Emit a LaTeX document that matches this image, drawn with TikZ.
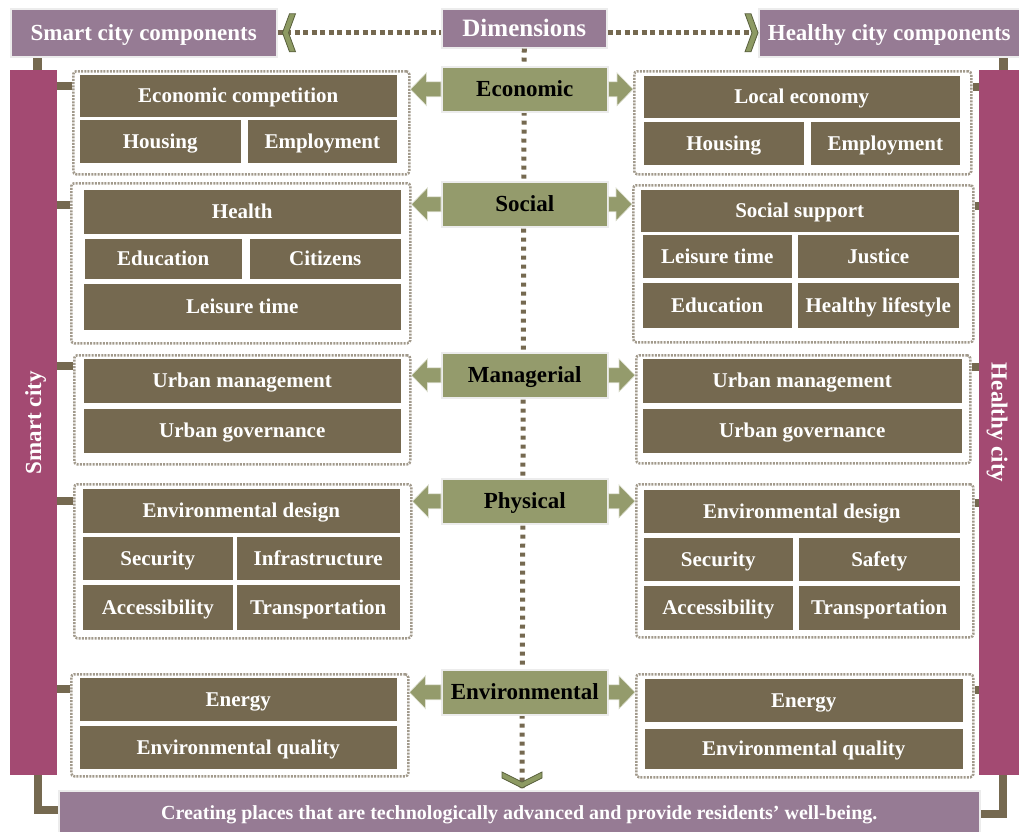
\documentclass[tikz,border=0pt]{standalone}
\usepackage{fontspec}
\setmainfont{Liberation Serif}
\usepackage{tikz}
\usetikzlibrary{calc}
\definecolor{cellbrown}{RGB}{117,105,80}
\definecolor{mauve}{RGB}{150,123,148}
\definecolor{rasp}{RGB}{163,74,114}
\definecolor{dimgreen}{RGB}{148,155,108}
\definecolor{framegray}{RGB}{162,154,140}
\definecolor{chevgreen}{RGB}{141,154,99}
\definecolor{chevdark}{RGB}{88,95,60}
\tikzstyle{arrow} = [fill=dimgreen,draw=white!70!dimgreen,line width=0.6pt,
	to path={let \p1=(\tikztostart), \p2=(\tikztotarget), \n1={sign(\x2-\x1)} in
		(\x1,{\y1+7.5pt}) -- ({\x2-\n1*16pt},{\y1+7.5pt}) -- ({\x2-\n1*16pt},{\y1+16.5pt}) -- (\x2,\y1)
		-- ({\x2-\n1*16pt},{\y1-16.5pt}) -- ({\x2-\n1*16pt},{\y1-7.5pt}) -- (\x1,{\y1-7.5pt}) -- cycle}]
\tikzstyle{link} = [line width=8pt,draw=cellbrown]
\tikzstyle{dots} = [line width=5pt,draw=cellbrown,dash pattern=on 5pt off 3.5pt]
\tikzset{chevh/.pic={\filldraw[fill=chevgreen,draw=chevdark,line width=0.8pt] (0,0) -- (7,-19) -- (13,-19) -- (6,0) -- (13,19) -- (7,19) -- cycle;},
	chevv/.pic={\filldraw[fill=chevgreen,draw=chevdark,line width=0.8pt] (0,0) -- (-20,-10) -- (-20,-16) -- (0,-6) -- (20,-16) -- (20,-10) -- cycle;}}

\begin{document}
\begin{tikzpicture}[x=1pt,y=-1pt,
			cell/.style={rectangle, draw=white, line width=1.5pt, fill=cellbrown, text=white, anchor=north west, inner sep=0pt, text height=14pt, text depth=0pt, font=\fontsize{21}{24}\selectfont\bfseries},
			head/.style={rectangle, draw=white!85!gray, line width=1.5pt, fill=mauve, text=white, anchor=north west, inner sep=0pt, text height=15pt, text depth=0pt, font=\fontsize{23}{26}\selectfont\bfseries},
			dim/.style={rectangle, draw=white!85!gray, line width=1.5pt, fill=dimgreen, text=black, anchor=north west, inner sep=0pt, minimum width=166, minimum height=45, text height=15pt, text depth=0pt, font=\fontsize{23}{26}\selectfont\bfseries},
			bar/.style={rectangle, fill=rasp, anchor=north west, inner sep=0pt},
			bartext/.style={text=white, text height=15pt, text depth=0pt, font=\fontsize{23}{26}\selectfont\bfseries},
			group/.style={rectangle, draw=framegray, line width=2.5pt, dash pattern=on 2pt off 1.2pt, rounded corners=3pt, anchor=north west, inner sep=0pt}]
			
			\useasboundingbox (0,0) rectangle (1019,831);
			
			\node[head, minimum width=266, minimum height=48] (S) at (10,8) {Smart city components};
			\node[head, minimum width=165, minimum height=39, text height=16pt, font=\fontsize{25}{28}\selectfont\bfseries] (D) at (441,8) {Dimensions};
			\node[head, minimum width=261, minimum height=48] (H) at (758,8) {Healthy city components};
			
			\node[bar, minimum width=47, minimum height=705] (SC) at (10,70) {};
			\node[bartext, rotate=90] at (SC) {Smart city};
			\node[bar, minimum width=40, minimum height=705] (HC) at (979,70) {};
			\node[bartext, rotate=-90] at (HC) {Healthy city};
			
			\node[head, minimum width=921, minimum height=45, text height=13pt, font=\fontsize{20}{24}\selectfont\bfseries] (B) at (58,790) {Creating places that are technologically advanced and provide residents' well-being.};
			
			% dotted guide lines
			\coordinate (vt) at (522,788);
			\draw[dots] (S.east) -- (D.west |- S.east);
			\draw[dots] (D.east |- H.west) -- (H.west);
			\draw[dots, dash pattern=on 4pt off 5pt] (D.south) -- (vt);
			\pic at ([xshift=5]S.east) {chevh};
			\pic[rotate=180] at (H.west) {chevh};
			\pic at (vt) {chevv};
			
			\node[dim] (Ec) at (441,66) {Economic};
			\node[dim] (So) at (441,181) {Social};
			\node[dim] (Ma) at (441,352) {Managerial};
			\node[dim] (Ph) at (441,478) {Physical};
			\node[dim] (En) at (441,669) {Environmental};
			
			\node[group, minimum width=336, minimum height=103] (fEL) at (72,70) {};
			\node[group, minimum width=337, minimum height=103] (fER) at (633,70) {};
			\node[group, minimum width=339, minimum height=160] (fSL) at (70,182) {};
			\node[group, minimum width=340, minimum height=157] (fSR) at (632,184) {};
			\node[group, minimum width=336, minimum height=109] (fML) at (73,354) {};
			\node[group, minimum width=334, minimum height=108] (fMR) at (635,354) {};
			\node[group, minimum width=337, minimum height=154] (fPL) at (73,483) {};
			\node[group, minimum width=337, minimum height=153] (fPR) at (635,483) {};
			\node[group, minimum width=337, minimum height=102] (fNL) at (70,673) {};
			\node[group, minimum width=337, minimum height=103] (fNR) at (635,673) {};
			
			% economic
			\node[cell, minimum width=319, minimum height=44] (EL1) at (78,73) {Economic competition};
			\node[cell, minimum width=163, minimum height=45] (EL2) at (78,118) {Housing};
			\node[cell, minimum width=151, minimum height=45] (EL3) at (246,118) {Employment};
			\node[cell, minimum width=318, minimum height=44] (ER1) at (642,74) {Local economy};
			\node[cell, minimum width=162, minimum height=45] (ER2) at (642,120) {Housing};
			\node[cell, minimum width=151, minimum height=45] (ER3) at (809,120) {Employment};
			
			% social
			\node[cell, minimum width=319, minimum height=46] (SL1) at (82,188) {Health};
			\node[cell, minimum width=159, minimum height=42] (SL2) at (83,237) {Education};
			\node[cell, minimum width=153, minimum height=42] (SL3) at (248,237) {Citizens};
			\node[cell, minimum width=319, minimum height=48] (SL4) at (82,282) {Leisure time};
			\node[cell, minimum width=320, minimum height=44] (SR1) at (639,188) {Social support};
			\node[cell, minimum width=151, minimum height=45] (SR2) at (641,233) {Leisure time};
			\node[cell, minimum width=163, minimum height=45] (SR3) at (796,233) {Justice};
			\node[cell, minimum width=151, minimum height=47] (SR4) at (641,281) {Education};
			\node[cell, minimum width=163, minimum height=47] (SR5) at (796,281) {Healthy lifestyle};
			
			% managerial
			\node[cell, minimum width=319, minimum height=46] (ML1) at (82,357) {Urban management};
			\node[cell, minimum width=319, minimum height=46] (ML2) at (82,407) {Urban governance};
			\node[cell, minimum width=321, minimum height=46] (MR1) at (641,357) {Urban management};
			\node[cell, minimum width=321, minimum height=46] (MR2) at (641,407) {Urban governance};
			
			% physical
			\node[cell, minimum width=319, minimum height=46] (PL1) at (81,487) {Environmental design};
			\node[cell, minimum width=152, minimum height=45] (PL2) at (81,535) {Security};
			\node[cell, minimum width=165, minimum height=45] (PL3) at (235,535) {Infrastructure};
			\node[cell, minimum width=152, minimum height=47] (PL4) at (81,583) {Accessibility};
			\node[cell, minimum width=165, minimum height=47] (PL5) at (235,583) {Transportation};
			\node[cell, minimum width=318, minimum height=45] (PR1) at (642,488) {Environmental design};
			\node[cell, minimum width=151, minimum height=45] (PR2) at (642,536) {Security};
			\node[cell, minimum width=163, minimum height=45] (PR3) at (797,536) {Safety};
			\node[cell, minimum width=151, minimum height=46] (PR4) at (642,584) {Accessibility};
			\node[cell, minimum width=163, minimum height=46] (PR5) at (797,584) {Transportation};
			
			% environmental
			\node[cell, minimum width=319, minimum height=45] (NL1) at (78,676) {Energy};
			\node[cell, minimum width=319, minimum height=45] (NL2) at (78,724) {Environmental quality};
			\node[cell, minimum width=320, minimum height=45] (NR1) at (643,677) {Energy};
			\node[cell, minimum width=320, minimum height=42] (NR2) at (643,727) {Environmental quality};
			
			% block arrows
			\filldraw[arrow] (Ec.west) to (Ec.west -| fEL.east);
			\filldraw[arrow] (Ec.east) to (Ec.east -| fER.west);
			\filldraw[arrow] (So.west) to (So.west -| fSL.east);
			\filldraw[arrow] (So.east) to (So.east -| fSR.west);
			\filldraw[arrow] (Ma.west) to (Ma.west -| fML.east);
			\filldraw[arrow] (Ma.east) to (Ma.east -| fMR.west);
			\filldraw[arrow] (Ph.west) to (Ph.west -| fPL.east);
			\filldraw[arrow] (Ph.east) to (Ph.east -| fPR.west);
			\filldraw[arrow] (En.west) to (En.west -| fNL.east);
			\filldraw[arrow] (En.east) to (En.east -| fNR.west);
			
			% links to the bars
			\draw[link, line width=9pt] ([xshift=4]SC.north) -- ([xshift=4]SC.north |- S.south);
			\draw[link, line width=9pt] ([xshift=4]HC.north) -- ([xshift=4]HC.north |- H.south);
			\draw[link] ([xshift=4]SC.south) |- ([yshift=3]B.west);
			\draw[link] ([xshift=4]HC.south) |- ([yshift=-1]B.east);
			
			\coordinate (k1) at ($(fEL.north west)+(0,16)$);
			\coordinate (k2) at ($(fSL.north west)+(0,23)$);
			\coordinate (k3) at ($(fML.north west)+(0,12)$);
			\coordinate (k4) at ($(fPL.north west)+(0,18)$);
			\coordinate (k5) at ($(fNL.north west)+(0,16)$);
			\coordinate (k6) at ($(fER.north east)+(0,17)$);
			\coordinate (k7) at ($(fSR.north east)+(0,22)$);
			\coordinate (k8) at ($(fMR.north east)+(0,13)$);
			\coordinate (k9) at ($(fPR.north east)+(0,20)$);
			\coordinate (k10) at ($(fNR.north east)+(0,17)$);
			\draw[link] (k1) -- (k1 -| SC.east);
			\draw[link] (k2) -- (k2 -| SC.east);
			\draw[link] (k3) -- (k3 -| SC.east);
			\draw[link] (k4) -- (k4 -| SC.east);
			\draw[link] (k5) -- (k5 -| SC.east);
			\draw[link] (k6) -- (k6 -| HC.west);
			\draw[link] (k7) -- (k7 -| HC.west);
			\draw[link] (k8) -- (k8 -| HC.west);
			\draw[link] (k9) -- (k9 -| HC.west);
			\draw[link] (k10) -- (k10 -| HC.west);
			
\end{tikzpicture}
\end{document}
